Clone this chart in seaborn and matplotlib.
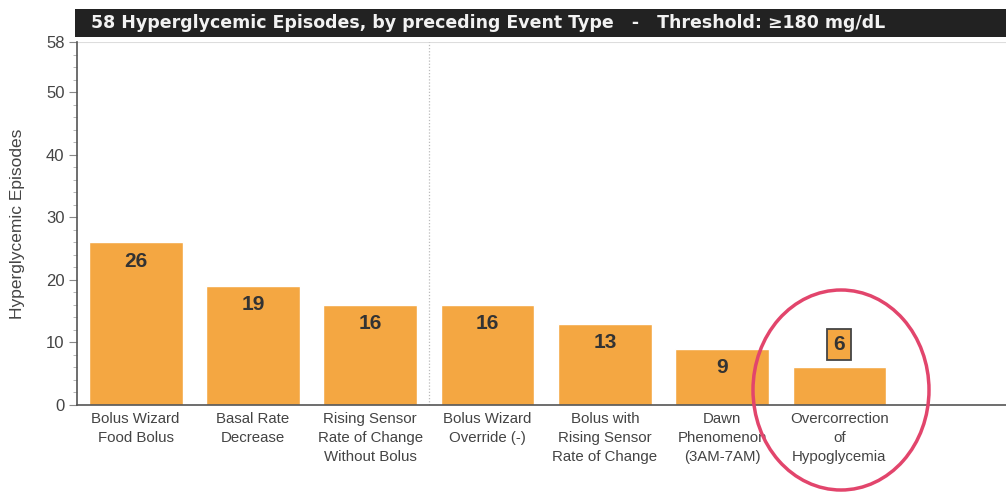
import matplotlib
matplotlib.use("Agg")
import matplotlib.pyplot as plt
from matplotlib.patches import Rectangle, Ellipse
from matplotlib.ticker import MultipleLocator
import seaborn as sns
import pandas as pd

categories = [
    "Bolus Wizard\nFood Bolus",
    "Basal Rate\nDecrease",
    "Rising Sensor\nRate of Change\nWithout Bolus",
    "Bolus Wizard\nOverride (-)",
    "Bolus with\nRising Sensor\nRate of Change",
    "Dawn\nPhenomenon\n(3AM-7AM)",
    "Overcorrection\nof\nHypoglycemia",
]
episodes = [26, 19, 16, 16, 13, 9, 6]
yticks = [0, 10, 20, 30, 40, 50, 58]
title = "58 Hyperglycemic Episodes, by preceding Event Type   -   Threshold: \u2265180 mg/dL"

bar_color = "#F4A742"
text_grey = "#444444"

sns.set_theme(style="white")
plt.rcParams["font.family"] = ["Liberation Sans", "DejaVu Sans"]

fig = plt.figure(figsize=(10.06, 4.92), dpi=100)
ax = fig.add_axes([77 / 1006, 1 - 405 / 492, 1 - 77 / 1006, (405 - 42) / 492])

df = pd.DataFrame({"event": categories, "count": episodes})
sns.barplot(data=df, x="event", y="count", color=bar_color, saturation=1,
            width=0.8, ax=ax)

ax.set_xlim(-0.5, 7.42)
ax.set_ylim(0, 58)
ax.set_yticks(yticks)
ax.yaxis.set_minor_locator(MultipleLocator(2))
ax.tick_params(axis="y", which="major", direction="out", length=6, width=0.8,
               color="#888888", labelsize=12, labelcolor=text_grey, left=True, pad=3)
ax.tick_params(axis="y", which="minor", direction="out", length=3, width=0.6,
               color="#aaaaaa", left=True)
ax.tick_params(axis="x", length=0, labelsize=10.8, labelcolor=text_grey, pad=5)
for lbl in ax.get_xticklabels():
    lbl.set_linespacing(1.45)
ax.set_xlabel("")
ax.set_ylabel("Hyperglycemic Episodes", fontsize=12.5, color=text_grey, labelpad=15)

for side in ("top", "right"):
    ax.spines[side].set_visible(False)
for side in ("left", "bottom"):
    ax.spines[side].set_color("#555555")
    ax.spines[side].set_linewidth(1.2)

# faint top rule and dotted divider
ax.axhline(58, color="#dddddd", lw=0.8)
ax.axvline(2.5, color="#bbbbbb", lw=0.9, ls=(0, (1, 1.5)))

# value labels
for i, v in enumerate(episodes):
    if v >= 8:
        ax.text(i, v - 3.0, str(v), ha="center", va="center", fontsize=15,
                fontweight="bold", color="#333333")
    else:
        ax.text(i, v + 3.7, str(v), ha="center", va="center", fontsize=15,
                fontweight="bold", color="#333333",
                bbox=dict(boxstyle="square,pad=0.3", fc=bar_color, ec="#444444", lw=1.3))

# highlight ring around the last category
ring = Ellipse((841 / 1006, 1 - 390 / 492), width=176 / 1006, height=200 / 492,
               transform=fig.transFigure, fill=False, ec="#E2456C", lw=2.5,
               clip_on=False)
fig.patches.append(ring)

# title banner
banner = Rectangle((75 / 1006, 1 - 37 / 492), 1 - 75 / 1006, 28 / 492,
                   transform=fig.transFigure, fc="#222222", ec="none")
fig.patches.append(banner)
fig.text(91 / 1006, 1 - 23 / 492, title, color="#f2f2f2", fontsize=12.5,
         fontweight="bold", ha="left", va="center", family="DejaVu Sans")

fig.savefig("out.png", dpi=100, facecolor="white")
